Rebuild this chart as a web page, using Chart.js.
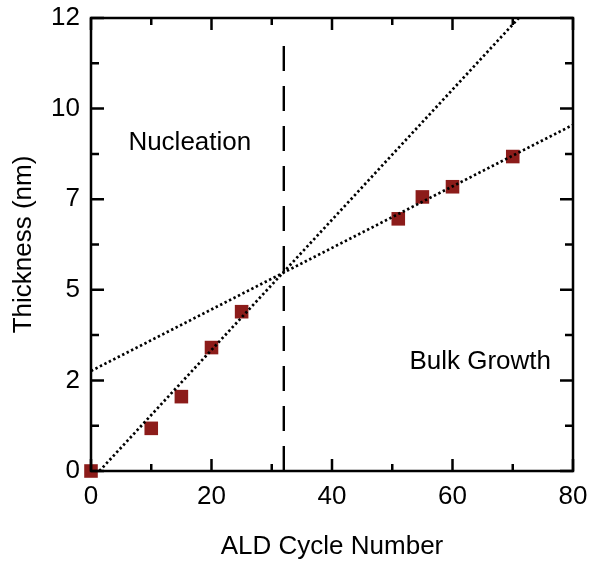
<!DOCTYPE html>
<html>
<head>
<meta charset="utf-8">
<script src="https://cdn.jsdelivr.net/npm/chart.js@4/dist/chart.umd.min.js"></script>
<style>
  html, body { margin: 0; padding: 0; background: #fff; }
  #wrap { width: 590px; height: 564px; }
</style>
</head>
<body>
<div id="wrap"><canvas id="thickness-chart"></canvas></div>
<script>
// ALD film thickness vs cycle number
const cycles = [0, 10, 15, 20, 25, 51, 55, 60, 70];
const thickness = [0, 1.13, 1.97, 3.27, 4.22, 6.68, 7.26, 7.53, 8.33];

// linear fits for the two growth regimes
const nucleationFit = [{x: 1.4, y: 0}, {x: 71, y: 12}];
const bulkFit = [{x: 0, y: 2.65}, {x: 80, y: 9.17}];
const regimeBoundary = [{x: 32, y: 0}, {x: 32, y: 11.3}];

const xTicks = [0, 20, 40, 60, 80];
const xMinorTicks = [10, 30, 50, 70];
const yTicks = [0, 2.4, 4.8, 7.2, 9.6, 12];
const yTickLabels = ['0', '2', '5', '7', '10', '12'];
const yMinorTicks = [1.2, 3.6, 6.0, 8.4, 10.8];

const FONT = "'Liberation Sans', Arial, Helvetica, sans-serif";

// frame, inward tick marks and region labels
const framePlugin = {
    id: 'frame',
    afterDraw(chart) {
        const {ctx, chartArea: a, scales: {x, y}} = chart;
        ctx.save();
        ctx.strokeStyle = '#000';
        ctx.lineWidth = 2.5;
        ctx.strokeRect(a.left, a.top, a.right - a.left, a.bottom - a.top);

        const tick = (px, len, horizontal) => {
            ctx.beginPath();
            if (horizontal) {
                ctx.moveTo(px, a.bottom); ctx.lineTo(px, a.bottom - len);
                ctx.moveTo(px, a.top); ctx.lineTo(px, a.top + len);
            } else {
                ctx.moveTo(a.left, px); ctx.lineTo(a.left + len, px);
                ctx.moveTo(a.right, px); ctx.lineTo(a.right - len, px);
            }
            ctx.stroke();
        };
        xTicks.forEach(v => tick(x.getPixelForValue(v), 12, true));
        xMinorTicks.forEach(v => tick(x.getPixelForValue(v), 7, true));
        yTicks.forEach(v => tick(y.getPixelForValue(v), 13, false));
        yMinorTicks.forEach(v => tick(y.getPixelForValue(v), 8, false));

        ctx.fillStyle = '#000';
        ctx.font = '26px ' + FONT;
        ctx.textAlign = 'center';
        ctx.textBaseline = 'middle';
        ctx.fillText('Nucleation', x.getPixelForValue(16.4), y.getPixelForValue(8.7));
        ctx.fillText('Bulk Growth', x.getPixelForValue(64.6), y.getPixelForValue(2.88));
        ctx.restore();
    }
};

const dotted = {
    showLine: true,
    pointRadius: 0,
    borderColor: '#000',
    borderWidth: 2.7,
    borderDash: [2.4, 2.6],
    fill: false,
};

const noScalePadding = scale => {
    scale.paddingLeft = 0;
    scale.paddingRight = 0;
    scale.paddingTop = 0;
    scale.paddingBottom = 0;
};

new Chart('thickness-chart', {
    type: 'scatter',
    data: {
        datasets: [{
            label: 'Nucleation fit',
            data: nucleationFit,
            ...dotted,
        }, {
            label: 'Bulk fit',
            data: bulkFit,
            ...dotted,
        }, {
            label: 'Regime boundary',
            data: regimeBoundary,
            showLine: true,
            pointRadius: 0,
            borderColor: '#000',
            borderWidth: 2.4,
            borderDash: [25, 15],
        }, {
            label: 'Thickness',
            data: cycles.map((c, i) => ({x: c, y: thickness[i]})),
            pointStyle: 'rect',
            pointRadius: 9.6,
            backgroundColor: '#8c1c1a',
            borderColor: '#8c1c1a',
            borderWidth: 0,
            clip: false,
        }],
    },
    options: {
        responsive: true,
        maintainAspectRatio: false,
        animation: false,
        layout: {
            padding: {top: 18, right: 17, left: 0, bottom: 0}
        },
        plugins: {
            legend: {display: false},
            tooltip: {enabled: false}
        },
        scales: {
            x: {
                type: 'linear',
                min: 0,
                max: 80,
                afterBuildTicks: scale => { scale.ticks = xTicks.map(v => ({value: v})); },
                afterFit: scale => { scale.height = 93; noScalePadding(scale); },
                grid: {display: false, drawTicks: false},
                border: {display: false},
                ticks: {
                    color: '#000',
                    padding: 10,
                    maxRotation: 0,
                    font: {family: FONT, size: 26}
                },
                title: {
                    display: true,
                    text: 'ALD Cycle Number',
                    color: '#000',
                    padding: {top: 0, bottom: 2},
                    font: {family: FONT, size: 26}
                }
            },
            y: {
                type: 'linear',
                min: 0,
                max: 12,
                afterBuildTicks: scale => { scale.ticks = yTicks.map(v => ({value: v})); },
                afterFit: scale => { scale.width = 91; noScalePadding(scale); },
                grid: {display: false, drawTicks: false},
                border: {display: false},
                ticks: {
                    color: '#000',
                    padding: 11,
                    font: {family: FONT, size: 26},
                    callback: (v, i) => yTickLabels[i]
                },
                title: {
                    display: true,
                    text: 'Thickness (nm)',
                    color: '#000',
                    padding: {top: 8, bottom: 0},
                    font: {family: FONT, size: 26}
                }
            }
        }
    },
    plugins: [framePlugin]
});
</script>
</body>
</html>
